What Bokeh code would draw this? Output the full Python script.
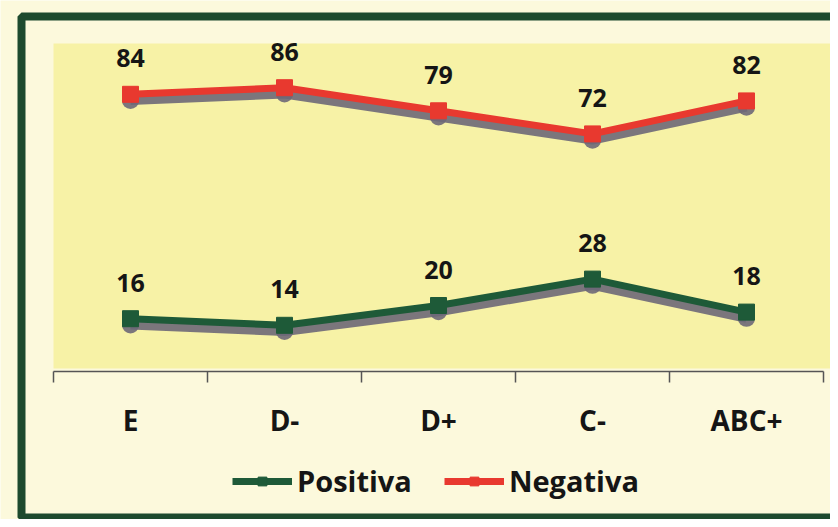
from bokeh.plotting import figure
from bokeh.models import (ColumnDataSource, FixedTicker, Legend, LegendItem,
                          BoxAnnotation, Range1d)
from bokeh.core.properties import value
from bokeh.embed import file_html
from bokeh.resources import INLINE

categories = ["E", "D-", "D+", "C-", "ABC+"]
positiva = [16, 14, 20, 28, 18]
negativa = [84, 86, 79, 72, 82]

FONT = "Open Sans"
GREEN = "#1e5a38"
RED = "#e8392f"
SHADOW = "#6d6878"
xs = list(range(1, len(categories) + 1))
shadow_dy = 1.9

src = ColumnDataSource(dict(
    x=xs,
    pos=positiva, neg=negativa,
    pos_s=[v - shadow_dy for v in positiva],
    neg_s=[v - shadow_dy for v in negativa],
    pos_t=[str(v) for v in positiva],
    neg_t=[str(v) for v in negativa],
))

W, H = 830, 519
# pixel layout of the category axis and the value scale
AX_LEFT, AX_RIGHT = 53, 823          # px of x=0.5 and x=5.5
Y0, Y100 = 371, 41                   # px of value 0 and 100
ppx = (AX_RIGHT - AX_LEFT) / len(categories)
ppy = (Y0 - Y100) / 100.0

p = figure(width=W, height=H, output_backend="svg", toolbar_location=None,
           x_range=Range1d(0.5 - AX_LEFT / ppx, 0.5 + (W - AX_LEFT) / ppx),
           y_range=Range1d(-(H - Y0) / ppy, 100 + Y100 / ppy),
           min_border=0)

p.background_fill_color = "#fcf9dc"
p.border_fill_color = "#fcf9dc"
p.outline_line_color = None
p.grid.visible = False
p.yaxis.visible = False

# yellow plot area (screen units: y measured from the bottom)
p.add_layout(BoxAnnotation(left=53, right=900, top=H - 43, bottom=H - 368,
                           left_units="screen", right_units="screen",
                           top_units="screen", bottom_units="screen",
                           fill_color="#f7f2a6", fill_alpha=1, line_color=None,
                           level="underlay"))

# shadows
for col in ("pos_s", "neg_s"):
    p.line("x", col, source=src, line_color=SHADOW, line_width=9, line_alpha=0.9)
    p.scatter("x", col, source=src, marker="circle", size=17,
              fill_color=SHADOW, line_color=None, fill_alpha=0.9)

lp = p.line("x", "pos", source=src, line_color=GREEN, line_width=7)
mp = p.scatter("x", "pos", source=src, marker="square", size=16,
               fill_color=GREEN, line_color=GREEN)
ln = p.line("x", "neg", source=src, line_color=RED, line_width=7)
mn = p.scatter("x", "neg", source=src, marker="square", size=16,
               fill_color=RED, line_color=RED)

for ycol, tcol in (("pos", "pos_t"), ("neg", "neg_t")):
    p.text("x", ycol, text=tcol, source=src, y_offset=-36,
           text_align="center", text_baseline="middle",
           text_font=value(FONT), text_font_style="bold",
           text_font_size="25px", text_color="#151515")

ax = p.xaxis[0]
ax.fixed_location = 0
ax.bounds = (0.5, len(categories) + 0.5)
ax.ticker = FixedTicker(ticks=xs, minor_ticks=[x - 0.5 for x in xs] + [xs[-1] + 0.5])
ax.major_label_overrides = {x: c for x, c in zip(xs, categories)}
ax.major_tick_line_color = None
ax.major_tick_out = 0
ax.major_tick_in = 0
ax.minor_tick_out = 11
ax.minor_tick_in = 0
ax.minor_tick_line_color = "#555555"
ax.minor_tick_line_width = 1.5
ax.axis_line_color = "#555555"
ax.axis_line_width = 1.5
ax.major_label_standoff = 18
ax.major_label_text_font = FONT
ax.major_label_text_font_style = "bold"
ax.major_label_text_font_size = "28px"
ax.major_label_text_color = "#151515"

legend = Legend(items=[LegendItem(label="Positiva", renderers=[lp, mp]),
                       LegendItem(label="Negativa", renderers=[ln, mn])],
                orientation="horizontal", location=(232, 19),
                label_text_font=FONT, label_text_font_style="bold",
                label_text_font_size="29px", label_text_color="#151515",
                glyph_width=60, glyph_height=22, spacing=32, label_standoff=5,
                background_fill_alpha=0, border_line_alpha=0,
                margin=0, padding=0)
p.add_layout(legend)

# dark green frame of the chart box
p.add_layout(BoxAnnotation(left=21, right=900, top=H - 16, bottom=H - 517,
                           left_units="screen", right_units="screen",
                           top_units="screen", bottom_units="screen",
                           fill_alpha=0, line_color="#1d4a2e", line_alpha=1,
                           line_width=8, level="overlay"))

open("out.html", "w").write(file_html(p, INLINE))
